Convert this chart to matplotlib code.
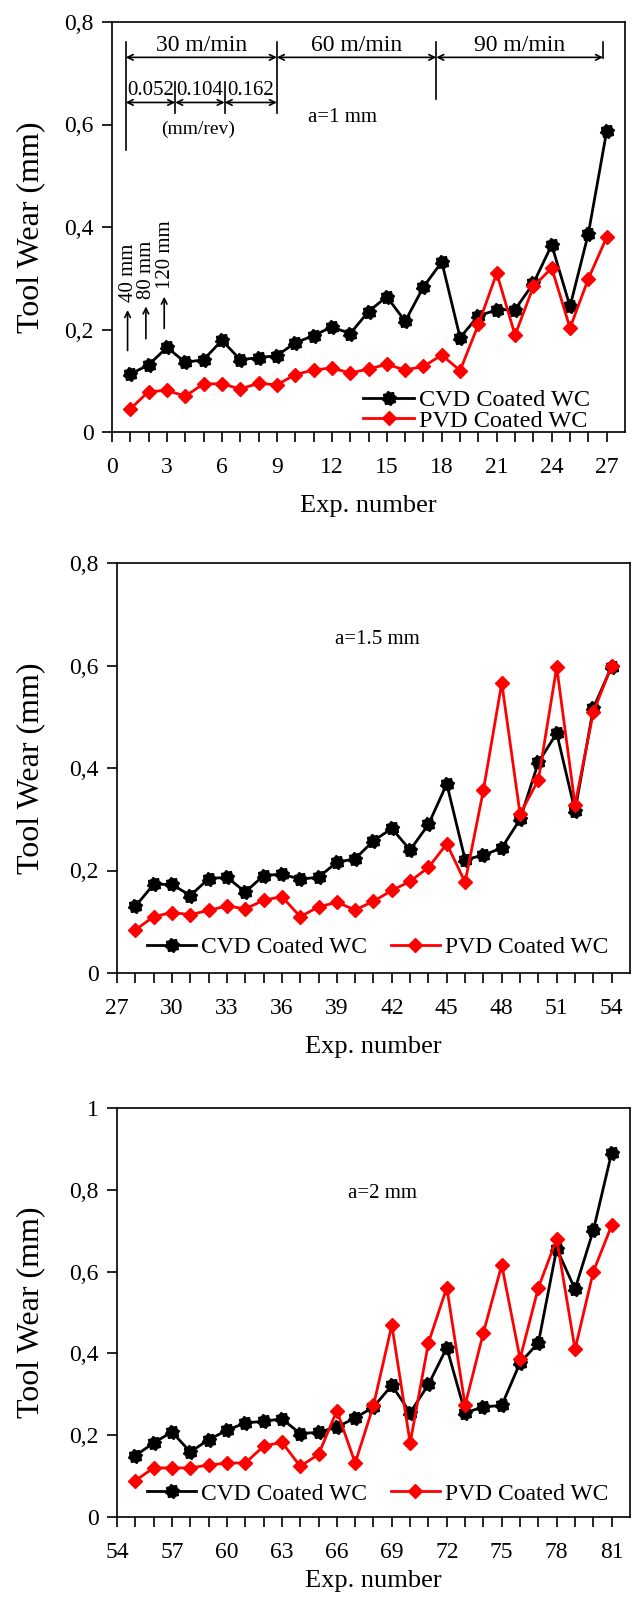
import numpy as np
import matplotlib
matplotlib.use('Agg')
import matplotlib.pyplot as plt
from matplotlib.path import Path

plt.rcParams['font.family'] = ['Liberation Serif', 'DejaVu Serif']

# a = 1 mm
exp1 = list(range(1, 28))
cvd1 = [0.113, 0.131, 0.165, 0.136, 0.141, 0.179, 0.141, 0.145, 0.149, 0.174,
        0.188, 0.205, 0.192, 0.235, 0.264, 0.216, 0.283, 0.332, 0.184, 0.227,
        0.238, 0.239, 0.290, 0.365, 0.245, 0.387, 0.587]
pvd1 = [0.045, 0.079, 0.081, 0.070, 0.094, 0.094, 0.084, 0.095, 0.092, 0.112,
        0.121, 0.125, 0.115, 0.123, 0.132, 0.121, 0.128, 0.150, 0.120, 0.210,
        0.310, 0.189, 0.284, 0.320, 0.203, 0.299, 0.380]

# a = 1.5 mm
exp2 = list(range(28, 55))
cvd2 = [0.130, 0.173, 0.173, 0.151, 0.184, 0.187, 0.158, 0.190, 0.193, 0.183,
        0.187, 0.216, 0.223, 0.258, 0.282, 0.240, 0.290, 0.369, 0.221, 0.230,
        0.244, 0.300, 0.411, 0.468, 0.316, 0.517, 0.598]
pvd2 = [0.084, 0.110, 0.118, 0.114, 0.122, 0.131, 0.125, 0.142, 0.149, 0.110,
        0.129, 0.138, 0.123, 0.140, 0.161, 0.179, 0.206, 0.252, 0.177, 0.357,
        0.566, 0.310, 0.377, 0.597, 0.328, 0.509, 0.600]

# a = 2 mm
exp3 = list(range(55, 82))
cvd3 = [0.150, 0.181, 0.208, 0.159, 0.189, 0.212, 0.230, 0.234, 0.240, 0.204,
        0.207, 0.220, 0.242, 0.269, 0.322, 0.255, 0.324, 0.414, 0.255, 0.269,
        0.273, 0.377, 0.426, 0.656, 0.557, 0.701, 0.891]
pvd3 = [0.089, 0.120, 0.120, 0.120, 0.127, 0.132, 0.132, 0.173, 0.183, 0.124,
        0.153, 0.260, 0.132, 0.273, 0.469, 0.181, 0.426, 0.561, 0.273, 0.451,
        0.616, 0.387, 0.561, 0.680, 0.410, 0.600, 0.713]

panels = [
    (exp1, cvd1, pvd1, 0, 28, 0.8, 'a=1 mm', (12.6, 0.613)),
    (exp2, cvd2, pvd2, 27, 55, 0.8, 'a=1.5 mm', (41.2, 0.65)),
    (exp3, cvd3, pvd3, 54, 82, 1.0, 'a=2 mm', (68.5, 0.79)),
]

# gear-like marker for the CVD series
ang = np.linspace(0, 2 * np.pi, 17)[:-1] + np.pi / 16
rad = np.where(np.arange(16) % 2 == 0, 1.0, 0.78)
verts = np.column_stack([rad * np.cos(ang), rad * np.sin(ang)])
verts = np.vstack([verts, verts[:1]])
gear = Path(verts, [Path.MOVETO] + [Path.LINETO] * 15 + [Path.CLOSEPOLY])

W, H = 635, 1598
fig = plt.figure(figsize=(W / 100, H / 100), dpi=100)
boxes = [(112, 625, 22, 432), (117, 630, 563, 973), (117, 630, 1108, 1517)]
xlab_pads = [12, 12, 5]


def ylab(v):
    if v == 0:
        return '0'
    if abs(v - 1) < 1e-9:
        return '1'
    return ('%.1f' % v).replace('.', ',')


axes = []
for (x, c, p, x0, x1, ymax, tag, tpos), (l, r, t, b), lp in zip(panels, boxes, xlab_pads):
    ax = fig.add_axes([l / W, 1 - b / H, (r - l) / W, (b - t) / H])
    axes.append(ax)
    ax.plot(x, c, color='black', lw=2, marker=gear, ms=10, label='CVD Coated WC')
    ax.plot(x, p, color='red', lw=2, marker='D', ms=7, label='PVD Coated WC')
    ax.set_xlim(x0, x1)
    ax.set_ylim(0, ymax)
    ticks = np.arange(x0, x1)
    ax.set_xticks(ticks)
    ax.set_xticklabels([str(k) if (k - x0) % 3 == 0 else '' for k in ticks])
    yt = np.arange(0, ymax + 0.001, 0.2)
    ax.set_yticks(yt)
    ax.set_yticklabels([ylab(v) for v in yt])
    ax.tick_params(direction='out', labelsize=17, width=1.2, length=7)
    ax.tick_params(axis='x', pad=11)
    ax.tick_params(axis='y', pad=6)
    for s in ax.spines.values():
        s.set_linewidth(1.2)
    ax.set_xlabel('Exp. number', fontsize=19, labelpad=lp)
    ax.set_ylabel('Tool Wear (mm)', fontsize=23)
    ax.yaxis.set_label_coords(-(l - 45) / (r - l), 0.5)
    ax.text(tpos[0], tpos[1], tag, fontsize=15, ha='center', va='center')

# legends
axes[0].legend(loc='lower left', bbox_to_anchor=(0.49, 0.0), frameon=False,
               fontsize=17.5, handlelength=2.1, handletextpad=0.2, labelspacing=-0.05,
               borderpad=0, borderaxespad=0)
for ax, yb in zip(axes[1:], [0.036, 0.03]):
    ax.legend(loc='lower left', bbox_to_anchor=(0.058, yb), frameon=False, ncol=2,
              fontsize=17, handlelength=2.1, handletextpad=0.2, columnspacing=1.0,
              borderpad=0, borderaxespad=0)

# speed / feed annotations on top panel
ax = axes[0]
lk = dict(color='black', lw=1.2)
ax.plot([0.75, 0.75], [0.551, 0.761], **lk)
ax.plot([9, 9], [0.623, 0.761], **lk)
ax.plot([17.7, 17.7], [0.649, 0.761], **lk)
ax.plot([26.8, 26.8], [0.73, 0.761], **lk)
ax.plot([3.45, 3.45], [0.623, 0.682], **lk)
ax.plot([6.15, 6.15], [0.623, 0.682], **lk)
arr = dict(arrowstyle='<->', color='black', lw=1.2, shrinkA=0, shrinkB=0)
for a, b, t in [(0.75, 9, '30 m/min'), (9, 17.7, '60 m/min'), (17.7, 26.8, '90 m/min')]:
    ax.annotate('', xy=(a, 0.731), xytext=(b, 0.731), arrowprops=arr)
    ax.text((a + b) / 2, 0.754, t, fontsize=17, ha='center', va='center')
for a, b, t in [(0.75, 3.45, '0.052'), (3.45, 6.15, '0.104'), (6.15, 9, '0.162')]:
    ax.annotate('', xy=(a, 0.643), xytext=(b, 0.643), arrowprops=arr)
    ax.text((a + b) / 2, 0.667, t, fontsize=15, ha='center', va='center')
ax.text(4.7, 0.59, '(mm/rev)', fontsize=14, ha='center', va='center')

up = dict(arrowstyle='->', color='black', lw=1.2, shrinkA=0, shrinkB=0)
for xa, y0, y1, t in [(0.85, 0.159, 0.238, '40 mm'), (1.85, 0.182, 0.245, '80 mm'),
                      (2.85, 0.202, 0.264, '120 mm')]:
    ax.annotate('', xy=(xa, y1), xytext=(xa, y0), arrowprops=up)
    ax.text(xa + 0.05, y1 + 0.015, t, fontsize=15, rotation=90, ha='center', va='bottom')

fig.savefig('out.png', dpi=100)
